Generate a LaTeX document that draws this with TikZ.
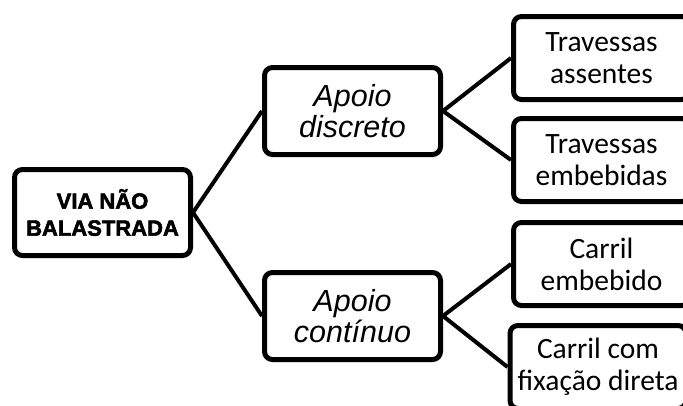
\documentclass[tikz,border=0pt]{standalone}
\usepackage{fontspec}
\usetikzlibrary{positioning}
\newfontfamily\rootfont{Liberation Sans}[BoldFeatures={FakeBold=2.5}]
\newfontfamily\apoiofont{Liberation Sans}
\newfontfamily\leaffont{Carlito}

\begin{document}
\begin{tikzpicture}[
    x=1pt, y=-1pt,
    box/.style={
        draw, line width=5pt, rounded corners=8pt,
        minimum width=176pt, align=center, inner sep=0pt
    },
    rootbox/.style={
        box, minimum height=86pt,
        font=\rootfont\bfseries\fontsize{22}{27}\selectfont
    },
    midbox/.style={
        box, minimum height=87pt,
        font=\apoiofont\itshape\fontsize{30.5}{31}\selectfont
    },
    leafbox/.style={
        box, minimum height=83pt,
        font=\leaffont\fontsize{29.5}{32}\selectfont
    },
    conn/.style={line width=4pt},
]

\clip (0,0) rectangle (683,405);

% ── Root ──
\node[rootbox] (via) at (102.5, 212.5) {VIA NÃO\\BALASTRADA};

% ── Second level ──
\node[midbox] (discreto) at (352.5, 111) {Apoio\\discreto};
\node[midbox] (continuo) at (352.5, 316) {Apoio\\contínuo};

% ── Leaves ──
\node[leafbox] (assentes)  at (601.5, 58)  {Travessas\\assentes};
\node[leafbox] (embebidas) at (601.5, 160) {Travessas\\embebidas};
\node[leafbox] (carrilemb) at (601.5, 264) {Carril\\embebido};
\node[leafbox] (carrilfix) at (598, 367) {Carril com\\fixação direta};

% ── Connectors ──
\draw[conn] (via.east) -- (discreto.west);
\draw[conn] (via.east) -- (continuo.west);
\draw[conn] (discreto.east) -- (assentes.west);
\draw[conn] (discreto.east) -- (embebidas.west);
\draw[conn] (continuo.east) -- (carrilemb.west);
\draw[conn] (continuo.east) -- (carrilfix.west);

\end{tikzpicture}
\end{document}
